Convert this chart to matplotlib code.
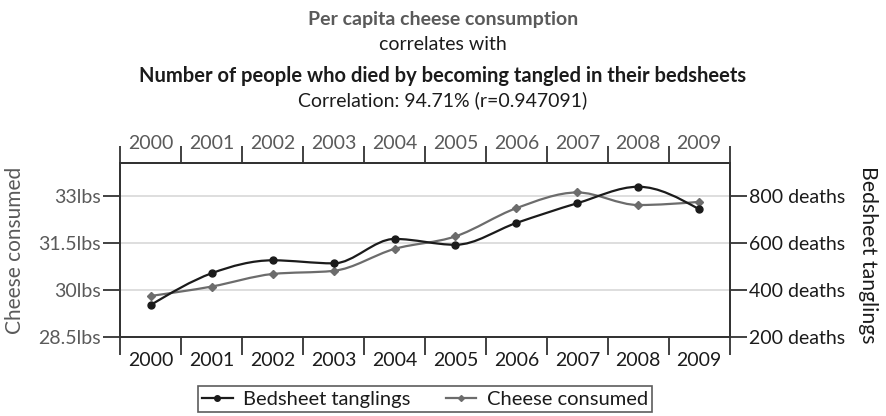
import numpy as np
import matplotlib
matplotlib.use("Agg")
import matplotlib.pyplot as plt
from matplotlib.path import Path
from matplotlib.patches import PathPatch
from matplotlib.lines import Line2D

plt.rcParams['font.family'] = ['Lato', 'DejaVu Sans']

years = ['2000', '2001', '2002', '2003', '2004', '2005', '2006', '2007', '2008', '2009']
cheese = [29.8, 30.1, 30.5, 30.6, 31.3, 31.7, 32.6, 33.1, 32.7, 32.8]
bedsheet = [335, 470, 525, 512, 616, 591, 684, 768, 838, 742]

cheese_ticks = [28.5, 30, 31.5, 33]
cheese_labels = ['28.5lbs', '30lbs', '31.5lbs', '33lbs']
bed_ticks = [200, 400, 600, 800]
bed_labels = ['200 deaths', '400 deaths', '600 deaths', '800 deaths']

DARK = '#1b1b1b'
GREY = '#6c6c6c'
TXT_GREY = '#5a5a5a'


def monotone_path(x, y):
    # d3 curveMonotoneX as cubic beziers
    x = np.asarray(x, float)
    y = np.asarray(y, float)
    n = len(x)
    h = np.diff(x)
    s = np.diff(y) / h
    t = np.zeros(n)
    for i in range(1, n - 1):
        p = (s[i - 1] * h[i] + s[i] * h[i - 1]) / (h[i - 1] + h[i])
        t[i] = (np.sign(s[i - 1]) + np.sign(s[i])) * min(abs(s[i - 1]), abs(s[i]), 0.5 * abs(p))
    t[0] = (3 * s[0] - t[1]) / 2
    t[-1] = (3 * s[-1] - t[-2]) / 2
    verts = [(x[0], y[0])]
    codes = [Path.MOVETO]
    for i in range(n - 1):
        dx = h[i] / 3
        verts += [(x[i] + dx, y[i] + dx * t[i]),
                  (x[i + 1] - dx, y[i + 1] - dx * t[i + 1]),
                  (x[i + 1], y[i + 1])]
        codes += [Path.CURVE4] * 3
    return Path(verts, codes)


fig = plt.figure(figsize=(8.86, 4.16), dpi=100)
W, H = 886, 416
ax = fig.add_axes([120.3 / W, (H - 336.7) / H, (729.7 - 120.3) / W, (336.7 - 163) / H])
ax2 = ax.twinx()

xs = np.arange(len(years)) + 0.5

# cheese on left axis
ax.set_xlim(0, 10)
ax.set_ylim(28.5, 34.04)
ax.set_yticks(cheese_ticks)
ax.set_yticklabels(cheese_labels)
ax.grid(axis='y', color='#d8d8d8', lw=1.2)
ax.set_axisbelow(True)
ax.add_patch(PathPatch(monotone_path(xs, cheese), fill=False, ec=GREY, lw=1.6, zorder=3))
ax.plot(xs, cheese, ls='none', marker='D', ms=3.8, color=GREY, zorder=4)

# bedsheets on right axis
ax2.set_ylim(200, 939)
ax2.set_yticks(bed_ticks)
ax2.set_yticklabels(bed_labels)
ax2.add_patch(PathPatch(monotone_path(xs, bedsheet), fill=False, ec=DARK, lw=1.6, zorder=3))
ax2.plot(xs, bedsheet, ls='none', marker='o', ms=5, color=DARK, zorder=4)

for a in (ax, ax2):
    for sp in a.spines.values():
        sp.set_color('#333333')
        sp.set_linewidth(1.3)

# year axes: ticks at boundaries, labels in between
ax.set_xticks(np.arange(11))
ax.set_xticklabels([])
ax.set_xticks(xs, minor=True)
ax.set_xticklabels(years, minor=True)
ax.tick_params(axis='x', which='major', length=13, width=1.3, color='#333333')
ax.tick_params(axis='x', which='minor', length=0, pad=11, labelsize=14, labelcolor=DARK)
ax.tick_params(axis='y', length=12, width=1.3, color='#333333', labelsize=14,
               labelcolor=TXT_GREY, pad=2)
ax2.tick_params(axis='y', length=12, width=1.3, color='#333333', labelsize=14,
                labelcolor=DARK, pad=2)

top = ax.secondary_xaxis('top')
top.set_xticks(np.arange(11))
top.set_xticklabels([])
top.set_xticks(xs, minor=True)
top.set_xticklabels(years, minor=True)
top.tick_params(axis='x', which='major', length=12, width=1.3, color='#333333')
top.tick_params(axis='x', which='minor', length=0, pad=8, labelsize=14, labelcolor=TXT_GREY)
top.spines['top'].set_color('#333333')
top.spines['top'].set_linewidth(1.3)

fig.text(15 / W, 1 - 250 / H, 'Cheese consumed', rotation=90, ha='center', va='center',
         fontsize=15, color=TXT_GREY)
fig.text(868 / W, 1 - 255 / H, 'Bedsheet tanglings', rotation=270, ha='center', va='center',
         fontsize=15.3, color=DARK)

# titles
fig.text(0.5, 1 - 25 / H, 'Per capita cheese consumption', ha='center', va='baseline',
         fontsize=14, fontweight='bold', color=TXT_GREY)
fig.text(0.5, 1 - 50 / H, 'correlates with', ha='center', va='baseline',
         fontsize=14, color=DARK)
fig.text(0.5, 1 - 82 / H, 'Number of people who died by becoming tangled in their bedsheets',
         ha='center', va='baseline', fontsize=14.5, fontweight='bold', color=DARK)
fig.text(0.5, 1 - 106 / H, 'Correlation: 94.71% (r=0.947091)', ha='center', va='baseline',
         fontsize=14, color=DARK)

handles = [Line2D([], [], color=DARK, lw=1.6, marker='o', ms=4),
           Line2D([], [], color=GREY, lw=1.6, marker='D', ms=3)]
leg = fig.legend(handles, ['Bedsheet tanglings', 'Cheese consumed'], loc='center',
                 bbox_to_anchor=(425 / W, 1 - 399 / H), ncol=2, frameon=True,
                 fancybox=False, fontsize=14.5, handlelength=1.5, handletextpad=0.5,
                 columnspacing=1.8, borderpad=0.2, labelcolor=DARK)
leg.get_frame().set_edgecolor('#333333')
leg.get_frame().set_linewidth(1.2)

fig.savefig('out.png', dpi=100)
